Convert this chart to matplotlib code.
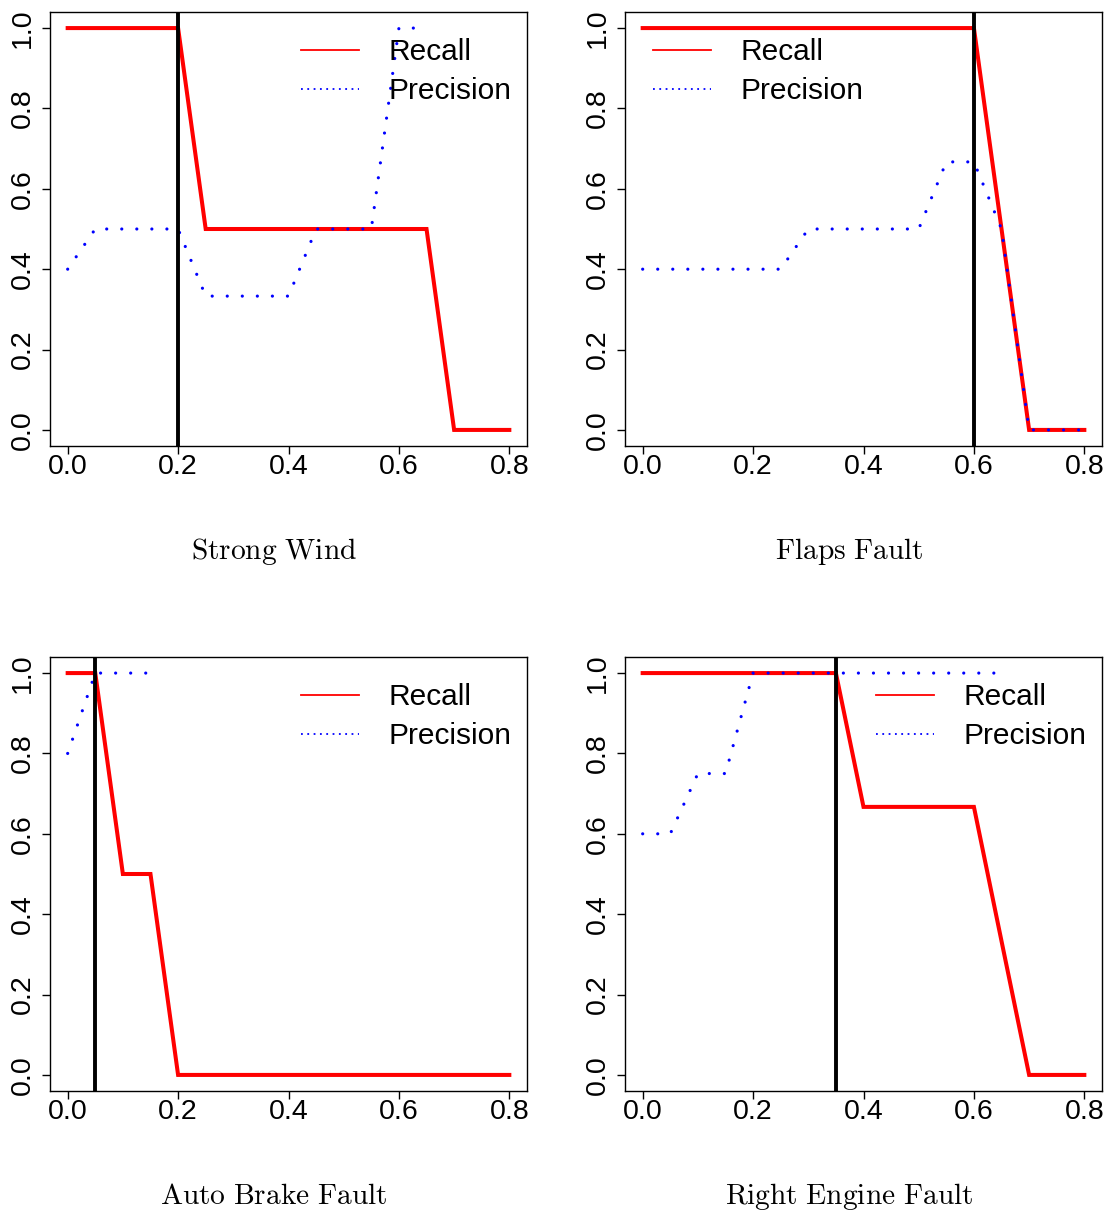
import matplotlib
matplotlib.use('Agg')
import matplotlib.pyplot as plt
from matplotlib.lines import Line2D
import numpy as np

plt.rcParams['font.family'] = ['Liberation Sans', 'DejaVu Sans']
plt.rcParams['mathtext.fontset'] = 'cm'

x = [0.0, 0.05, 0.1, 0.15, 0.2, 0.25, 0.3, 0.35, 0.4, 0.45, 0.5, 0.55, 0.6, 0.65, 0.7, 0.75, 0.8]
nan = np.nan

titles = ['Strong Wind', 'Flaps Fault', 'Auto Brake Fault', 'Right Engine Fault']
thresholds = [0.2, 0.6, 0.05, 0.35]

recall_wind = [1, 1, 1, 1, 1, 0.5, 0.5, 0.5, 0.5, 0.5, 0.5, 0.5, 0.5, 0.5, 0, 0, 0]
precision_wind = [0.4, 0.5, 0.5, 0.5, 0.5, 0.333, 0.333, 0.333, 0.333, 0.5, 0.5, 0.5, 1, 1, nan, nan, nan]

recall_flaps = [1, 1, 1, 1, 1, 1, 1, 1, 1, 1, 1, 1, 1, 0.5, 0, 0, 0]
precision_flaps = [0.4, 0.4, 0.4, 0.4, 0.4, 0.4, 0.5, 0.5, 0.5, 0.5, 0.5, 0.667, 0.667, 0.5, 0, 0, 0]

recall_brake = [1, 1, 0.5, 0.5, 0, 0, 0, 0, 0, 0, 0, 0, 0, 0, 0, 0, 0]
precision_brake = [0.8, 1, 1, 1, nan, nan, nan, nan, nan, nan, nan, nan, nan, nan, nan, nan, nan]

recall_engine = [1, 1, 1, 1, 1, 1, 1, 1, 0.667, 0.667, 0.667, 0.667, 0.667, 0.333, 0, 0, 0]
precision_engine = [0.6, 0.6, 0.75, 0.75, 1, 1, 1, 1, 1, 1, 1, 1, 1, 1, nan, nan, nan]

recalls = [recall_wind, recall_flaps, recall_brake, recall_engine]
precisions = [precision_wind, precision_flaps, precision_brake, precision_engine]

W, H = 1110, 1213
fig = plt.figure(figsize=(W / 100, H / 100), dpi=100)

# axes boxes in pixels: left, top, right, bottom
boxes = [(50, 12, 527, 446), (625, 12, 1102, 446),
         (50, 657, 527, 1091), (625, 657, 1102, 1091)]
title_pos = [(274, 551), (849, 551), (274, 1196), (849, 1196)]
legend_anchor = [(0.9665, 0.94), (0.0587, 0.94), (0.9665, 0.94), (0.9665, 0.94)]
legend_loc = ['upper right', 'upper left', 'upper right', 'upper right']

handles = [Line2D([], [], color='red', lw=1.3),
           Line2D([], [], color='blue', lw=1.3, linestyle=(0, (1, 2.5)))]

for i in range(4):
    l, t, r, b = boxes[i]
    ax = fig.add_axes([l / W, 1 - b / H, (r - l) / W, (b - t) / H])
    ax.plot(x, recalls[i], color='red', lw=2.9, solid_joinstyle='miter')
    ax.plot(x, precisions[i], color='blue', lw=2.3, linestyle=(0, (0.01, 4.7)),
            dash_capstyle='round')
    ax.axvline(thresholds[i], color='black', lw=2.8)
    ax.set_xlim(-0.032, 0.832)
    ax.set_ylim(-0.04, 1.04)
    ax.set_xticks([0.0, 0.2, 0.4, 0.6, 0.8])
    ax.set_yticks([0.0, 0.2, 0.4, 0.6, 0.8, 1.0])
    ax.set_xticklabels(['0.0', '0.2', '0.4', '0.6', '0.8'])
    ax.set_yticklabels(['0.0', '0.2', '0.4', '0.6', '0.8', '1.0'], rotation=90, va='center')
    ax.tick_params(direction='out', length=5.5, width=1, labelsize=20.5)
    ax.tick_params(axis='x', pad=0.5)
    ax.tick_params(axis='y', pad=5)
    for s in ax.spines.values():
        s.set_linewidth(1)
    ax.legend(handles, ['Recall', 'Precision'], loc=legend_loc[i],
              bbox_to_anchor=legend_anchor[i], frameon=False, fontsize=21.5,
              handlelength=1.95, handletextpad=0.97, labelspacing=0.37,
              borderaxespad=0, borderpad=0)
    tx, ty = title_pos[i]
    fig.text(tx / W, 1 - ty / H, r'$\mathrm{' + titles[i].replace(' ', r'\ ') + '}$',
             ha='center', va='center', fontsize=21.2)

fig.savefig('out.png', dpi=100)
